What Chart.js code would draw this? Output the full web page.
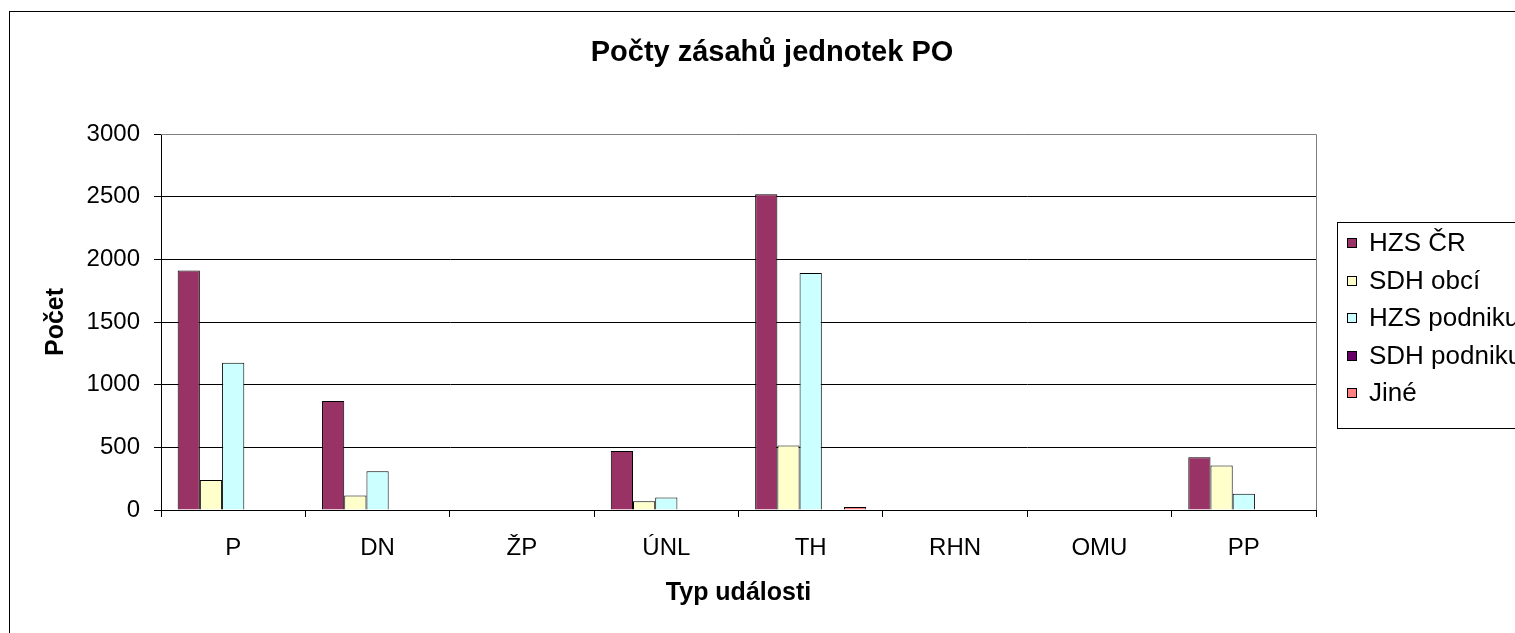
<!DOCTYPE html>
<html>
<head>
<meta charset="utf-8">
<script src="https://cdn.jsdelivr.net/npm/chart.js@4/dist/chart.umd.min.js"></script>
<style>
  html, body { margin: 0; padding: 0; background: #ffffff; }
  #wrap { width: 1515px; height: 633px; }
</style>
</head>
<body>
<div id="wrap"><canvas id="c" width="1515" height="633"></canvas></div>
<script>
const chartTitle = 'Počty zásahů jednotek PO';
const xTitle = 'Typ události';
const yTitle = 'Počet';
const categories = ['P', 'DN', 'ŽP', 'ÚNL', 'TH', 'RHN', 'OMU', 'PP'];
const seriesNames = ['HZS ČR', 'SDH obcí', 'HZS podniku', 'SDH podniku', 'Jiné'];
const hzsCR      = [1910, 870, 0, 470, 2520, 0, 0, 420];
const sdhObci    = [240, 115, 0, 70, 515, 0, 0, 355];
const hzsPodniku = [1175, 310, 0, 100, 1890, 0, 0, 130];
const sdhPodniku = [0, 0, 0, 0, 0, 0, 0, 0];
const jine       = [0, 0, 0, 0, 24, 0, 0, 0];
const yTicks = [0, 500, 1000, 1500, 2000, 2500, 3000];
const seriesColors = ['#993366', '#FFFFCC', '#CCFFFF', '#660066', '#FF8080'];

const FONT = '"Liberation Sans", Arial, sans-serif';
const allSeries = [hzsCR, sdhObci, hzsPodniku, sdhPodniku, jine];

const decor = {
  id: 'decor',
  beforeDraw(chart) {
    const ctx = chart.ctx;
    ctx.save();
    ctx.fillStyle = '#ffffff';
    ctx.fillRect(0, 0, chart.width, chart.height);
    ctx.strokeStyle = '#000000';
    ctx.lineWidth = 1;
    ctx.strokeRect(9.5, 11.5, 1700, 800);
    ctx.restore();
  },
  afterDraw(chart) {
    const ctx = chart.ctx;
    const a = chart.chartArea;
    ctx.save();
    // chart title, centred over the whole chart object
    ctx.font = 'bold 29px ' + FONT;
    ctx.fillStyle = '#000000';
    ctx.textAlign = 'center';
    ctx.textBaseline = 'middle';
    ctx.fillText(chartTitle, 772, 53);
    // plot area border
    ctx.strokeStyle = '#808080';
    ctx.lineWidth = 1;
    ctx.beginPath();
    ctx.moveTo(a.left, a.top + 0.5);
    ctx.lineTo(a.right + 0.5, a.top + 0.5);
    ctx.lineTo(a.right + 0.5, a.bottom);
    ctx.stroke();
    // legend
    const lx = 1337.5, ly = 222.5;
    ctx.strokeStyle = '#000000';
    ctx.strokeRect(lx, ly, 400, 206);
    ctx.font = '26px ' + FONT;
    ctx.textBaseline = 'middle';
    ctx.textAlign = 'left';
    chart.data.datasets.forEach((ds, i) => {
      const cy = 243 + i * 37.5;
      const top = Math.round(cy - 5);
      ctx.fillStyle = ds.backgroundColor;
      ctx.fillRect(1347, top, 10, 10);
      ctx.strokeStyle = '#000000';
      ctx.strokeRect(1347.5, top + 0.5, 9, 9);
      ctx.fillStyle = '#000000';
      ctx.fillText(ds.label, 1369, cy + 1);
    });
    ctx.restore();
  }
};

new Chart(document.getElementById('c'), {
  type: 'bar',
  data: {
    labels: categories,
    datasets: seriesNames.map((name, i) => ({
      label: name,
      data: allSeries[i],
      backgroundColor: seriesColors[i],
      borderColor: '#000000',
      borderWidth: 1,
      borderSkipped: 'start',
      categoryPercentage: 5 / 6.5,
      barPercentage: 1.0
    }))
  },
  options: {
    responsive: false,
    devicePixelRatio: 1,
    animation: false,
    layout: { padding: { left: 0, right: 199, top: 134, bottom: 0 } },
    plugins: {
      legend: { display: false },
      tooltip: { enabled: false },
      title: { display: false }
    },
    scales: {
      x: {
        offset: true,
        grid: {
          display: true,
          offset: true,
          drawOnChartArea: false,
          drawTicks: true,
          tickLength: 7,
          color: '#000000',
          lineWidth: 1
        },
        border: { display: true, color: '#000000', width: 1 },
        ticks: {
          color: '#000000',
          font: { family: FONT, size: 24, lineHeight: 1.2 },
          padding: 17,
          maxRotation: 0,
          autoSkip: false
        },
        title: {
          display: true,
          text: xTitle,
          color: '#000000',
          font: { family: FONT, size: 25, weight: 'bold', lineHeight: 1.2 },
          padding: { top: 0, bottom: 25 }
        },
        afterFit(scale) { scale.height = 123; }
      },
      y: {
        min: 0,
        max: 3000,
        afterBuildTicks(scale) { scale.ticks = yTicks.map(v => ({ value: v })); },
        grid: {
          color: '#000000',
          lineWidth: 1,
          drawTicks: true,
          tickLength: 7
        },
        border: { display: true, color: '#000000', width: 1 },
        ticks: {
          color: '#000000',
          font: { family: FONT, size: 24, lineHeight: 1.2 },
          padding: 14,
          callback: (v) => String(v)
        },
        title: {
          display: true,
          text: yTitle,
          color: '#000000',
          font: { family: FONT, size: 25, weight: 'bold', lineHeight: 1.2 },
          padding: { top: 41, bottom: 0 }
        },
        afterFit(scale) { scale.width = 161; }
      }
    }
  },
  plugins: [decor]
});
</script>
</body>
</html>
